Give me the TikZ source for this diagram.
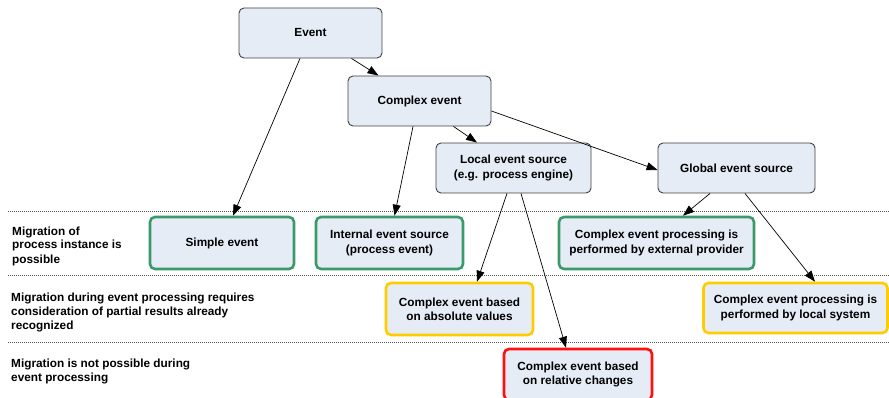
\documentclass[tikz,border=0pt]{standalone}
\usepackage{fontspec}
\setmainfont{Liberation Sans}
\usetikzlibrary{arrows.meta,calc}
\definecolor{boxfill}{HTML}{E6ECF6}
\definecolor{boxline}{HTML}{404040}
\definecolor{greenline}{HTML}{3A9A6A}
\definecolor{yellowline}{HTML}{FFCC00}
\definecolor{redline}{HTML}{FF1010}
\definecolor{sepline}{HTML}{555555}
\tikzset{
  basebox/.style={rectangle, rounded corners=5pt, fill=boxfill, align=center,
    font=\fontsize{11.8}{14.2}\selectfont\bfseries, inner sep=0pt},
  topbox/.style={basebox, draw=boxline, line width=0.9pt},
  greenbox/.style={basebox, draw=greenline, line width=2.6pt},
  yellowbox/.style={basebox, draw=yellowline, line width=2.6pt},
  redbox/.style={basebox, draw=redline, line width=2.6pt},
  conn/.style={-{Triangle[length=11pt,width=8pt]}, line width=0.7pt},
  sep/.style={draw=sepline, line width=0.7pt, dash pattern=on 1.2pt off 0.8pt},
  rowlabel/.style={anchor=base west, align=left, inner sep=0pt,
    font=\fontsize{11.8}{14}\selectfont\bfseries}
}
\begin{document}
\begin{tikzpicture}[x=1pt,y=-1pt]
\useasboundingbox (0,0) rectangle (889,398);
\clip (0,0) rectangle (889,398);
% separators
\coordinate (s1l) at (8,211); \coordinate (s1r) at (889,211);
\coordinate (s2l) at (8,275); \coordinate (s2r) at (889,275);
\coordinate (s3l) at (8,342); \coordinate (s3r) at (889,342);
\draw[sep] (s1l) -- (s1r);
\draw[sep] (s2l) -- (s2r);
\draw[sep] (s3l) -- (s3r);
% row labels (anchored at the baseline of their last line)
\node[rowlabel] (r1) at (12,263) {Migration of\\process instance is\\possible};
\node[rowlabel] (r2) at (11,329) {Migration during event processing requires\\consideration of partial results already\\recognized};
\node[rowlabel] (r3) at (11,381) {Migration is not possible during\\event processing};
% top boxes
\node[topbox, minimum width=143pt, minimum height=50pt] (ev) at (310.5,33) {Event};
\node[topbox, minimum width=143pt, minimum height=50pt] (ce) at (419.5,101) {Complex event};
\node[topbox, minimum width=155pt, minimum height=50pt] (les) at (513.5,168) {Local event source\\(e.g. process engine)};
\node[topbox, minimum width=157pt, minimum height=50pt] (ges) at (736.5,168) {Global event source};
% green row
\node[greenbox, minimum width=144pt, minimum height=52pt] (se) at (222,243) {Simple event};
\node[greenbox, minimum width=147pt, minimum height=52pt] (ies) at (389.5,243) {Internal event source\\(process event)};
\node[greenbox, minimum width=195pt, minimum height=52pt] (ext) at (656.5,243) {Complex event processing is\\performed by external provider};
% yellow row
\node[yellowbox, minimum width=147pt, minimum height=52pt] (abs) at (459.5,309) {Complex event based\\on absolute values};
\node[yellowbox, minimum width=184pt, minimum height=50pt] (loc) at (795.5,308) {Complex event processing is\\performed by local system};
% red row
\node[redbox, minimum width=148pt, minimum height=51pt] (rel) at (578,374.5) {Complex event based\\on relative changes};
% connectors
\draw[conn] ([xshift=-10.5pt]ev.south) -- ([xshift=11pt]se.north);
\draw[conn] ([xshift=41pt]ev.south) -- ([xshift=-41pt]ce.north);
\draw[conn] ([xshift=-6.5pt]ce.south) -- ([xshift=5pt]ies.north);
\draw[conn] ([xshift=34pt]ce.south) -- ([xshift=-36.5pt]les.north);
\draw[conn] ([yshift=-10pt]ce.east) -- ([yshift=-2pt]ges.west);
\draw[conn] ([xshift=-6.5pt]les.south) -- ([xshift=17.5pt]abs.north);
\draw[conn] ([xshift=7.5pt]les.south) -- ([xshift=-12pt]rel.north);
\draw[conn] ([xshift=-26.5pt]ges.south) -- ([xshift=26.5pt]ext.north);
\draw[conn] ([xshift=8.5pt]ges.south) -- ([xshift=19.5pt]loc.north);
\end{tikzpicture}
\end{document}
